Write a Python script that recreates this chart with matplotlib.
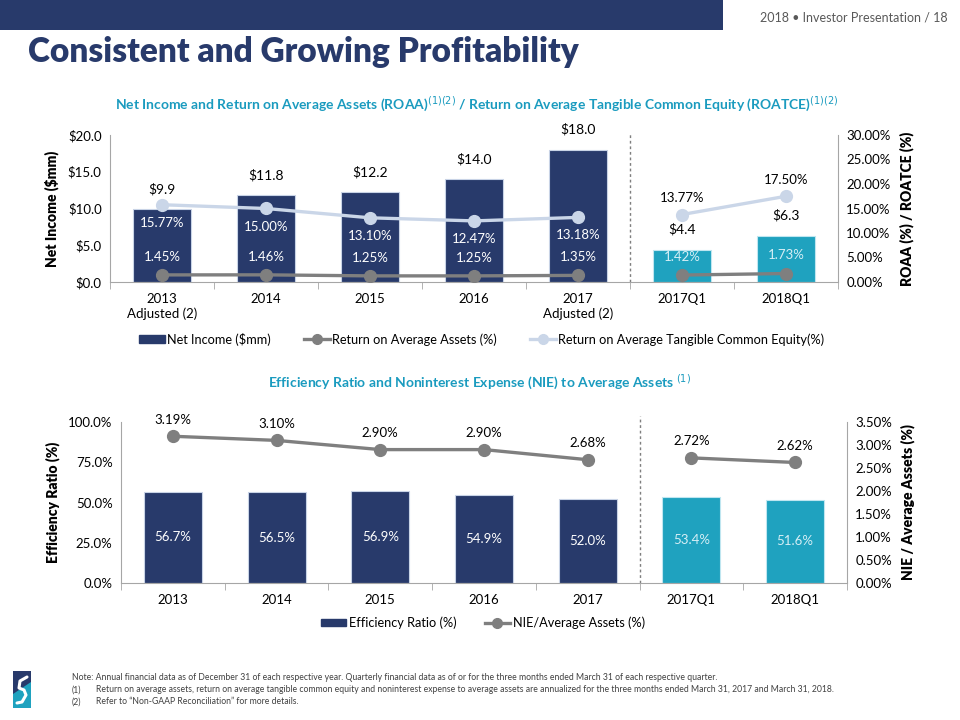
import numpy as np
import matplotlib
matplotlib.use("Agg")
import matplotlib.pyplot as plt
from matplotlib.patches import Rectangle, Polygon
from matplotlib.lines import Line2D
from matplotlib.ticker import FuncFormatter, MultipleLocator, FixedLocator

plt.rcParams['font.family'] = ['Lato', 'DejaVu Sans']

NAVY = '#283a6b'
TEAL = '#1fa2bf'
GRAY = '#7f7f7f'
LIGHT = '#cad6e8'
AXIS = '#a6a6a6'

# %% data
top_cats = ['2013\nAdjusted (2)', '2014', '2015', '2016', '2017\nAdjusted (2)', '2017Q1', '2018Q1']
net_income = [9.9, 11.8, 12.2, 14.0, 18.0, 4.4, 6.3]
roaa = [1.45, 1.46, 1.25, 1.25, 1.35, 1.42, 1.73]
roatce = [15.77, 15.00, 13.10, 12.47, 13.18, 13.77, 17.50]

bot_cats = ['2013', '2014', '2015', '2016', '2017', '2017Q1', '2018Q1']
eff_ratio = [56.7, 56.5, 56.9, 54.9, 52.0, 53.4, 51.6]
nie_assets = [3.19, 3.10, 2.90, 2.90, 2.68, 2.72, 2.62]

n_annual = 5
bar_colors = [NAVY] * n_annual + [TEAL] * 2
bar_edges = ['#c8d3e6'] * n_annual + ['#bfe6f0'] * 2

fig = plt.figure(figsize=(9.6, 7.2), dpi=100)


def fx(px):
    return px / 960


def fy(py):
    return 1 - py / 720


# %% header
fig.add_artist(Rectangle((0, fy(30)), fx(723), 30 / 720, transform=fig.transFigure,
                         color=NAVY, lw=0))
fig.text(fx(948), fy(18), '2018 \u2022 Investor Presentation / 18', ha='right', va='center',
         fontsize=9, color='#595959')
fig.text(fx(28), fy(52), 'Consistent and Growing Profitability', ha='left', va='center',
         fontsize=24, fontweight='heavy', color=NAVY)
fig.text(0.497, fy(104),
         r'Net Income and Return on Average Assets (ROAA)$^{(1)(2)}$ / Return on Average Tangible Common Equity (ROATCE)$^{(1)(2)}$',
         ha='center', va='center', fontsize=10, fontweight='bold', color='#1a9bbf')
fig.text(0.5, fy(382), r'Efficiency Ratio and Noninterest Expense (NIE) to Average Assets $^{(1)}$',
         ha='center', va='center', fontsize=10, fontweight='bold', color='#1a9bbf')


def style_axes(ax, ax2):
    for a in (ax, ax2):
        a.spines['top'].set_visible(False)
        for s in ('left', 'right', 'bottom'):
            a.spines[s].set_color(AXIS)
        a.tick_params(axis='y', length=0, labelsize=9.5, pad=6)
    ax.spines['right'].set_visible(False)
    ax2.spines['left'].set_visible(False)
    ax2.spines['bottom'].set_visible(False)
    ax.set_xlim(-0.5, 6.5)
    ax.xaxis.set_major_locator(FixedLocator(range(7)))
    ax.xaxis.set_minor_locator(FixedLocator(np.arange(-0.5, 7, 1)))
    ax.tick_params(axis='x', which='major', length=0, labelsize=9.5, pad=8)
    ax.tick_params(axis='x', which='minor', length=5, color=AXIS, direction='out')


# %% top chart
x = np.arange(len(top_cats))
ax1 = fig.add_axes([fx(110), fy(282), 728 / 960, 147 / 720])
ax1b = ax1.twinx()
ax1.bar(x, net_income, width=0.56, color=bar_colors, edgecolor=bar_edges, lw=0.8)
ax1.set_ylim(0, 20)
ax1.yaxis.set_major_locator(MultipleLocator(5))
ax1.yaxis.set_major_formatter(FuncFormatter(lambda v, p: f'${v:.1f}'))
ax1.set_xticks(x)
ax1.set_xticklabels(top_cats)
ax1.set_ylabel('Net Income ($mm)', fontsize=10, fontweight='heavy', labelpad=6)

ax1b.set_ylim(0, 30)
ax1b.yaxis.set_major_locator(MultipleLocator(5))
ax1b.yaxis.set_major_formatter(FuncFormatter(lambda v, p: f'{v:.2f}%'))
ax1b.set_ylabel('ROAA (%) / ROATCE (%)', fontsize=10, fontweight='heavy', labelpad=6)
for seg in (slice(0, n_annual), slice(n_annual, None)):
    ax1b.plot(x[seg], roatce[seg], color=LIGHT, lw=2.4, marker='o', ms=8.5, zorder=3)
    ax1b.plot(x[seg], roaa[seg], color=GRAY, lw=2.4, marker='o', ms=8.5, zorder=3)
style_axes(ax1, ax1b)

for i, v in enumerate(net_income):
    ax1.annotate(f'${v:.1f}', (x[i], v), xytext=(0, 10), textcoords='offset points',
                 ha='center', va='bottom', fontsize=10)
for i, v in enumerate(roatce):
    if i < n_annual:
        ax1b.annotate(f'{v:.2f}%', (x[i], v), xytext=(0, -13), textcoords='offset points',
                      ha='center', va='center', fontsize=9.5, color='white')
    else:
        ax1b.annotate(f'{v:.2f}%', (x[i], v), xytext=(0, 12), textcoords='offset points',
                      ha='center', va='center', fontsize=9.5, color='black')
for i, v in enumerate(roaa):
    c = 'white' if i < n_annual else '#d6eef5'
    ax1b.annotate(f'{v:.2f}%', (x[i], v), xytext=(0, 13), textcoords='offset points',
                  ha='center', va='center', fontsize=9.5, color=c)
ax1.plot([4.5, 4.5], [0, 20.4], color=GRAY, lw=1, ls=(0, (2, 2)), clip_on=False)

fig.legend(handles=[Rectangle((0, 0), 1, 1, color=NAVY),
                    Line2D([], [], color=GRAY, lw=2.4, marker='o', ms=7),
                    Line2D([], [], color=LIGHT, lw=2.4, marker='o', ms=7)],
           labels=['Net Income ($mm)', 'Return on Average Assets (%)',
                   'Return on Average Tangible Common Equity(%)'],
           loc='center', bbox_to_anchor=(0.502, fy(339)), ncol=3, frameon=False,
           fontsize=9.2, handlelength=2.0, handleheight=0.5, handletextpad=0.2, columnspacing=2.6)

# %% bottom chart
ax2 = fig.add_axes([fx(121), fy(583), 726 / 960, 161 / 720])
ax2b = ax2.twinx()
ax2.bar(x, eff_ratio, width=0.56, color=bar_colors, edgecolor=bar_edges, lw=0.8)
ax2.set_ylim(0, 100)
ax2.yaxis.set_major_locator(MultipleLocator(25))
ax2.yaxis.set_major_formatter(FuncFormatter(lambda v, p: f'{v:.1f}%'))
ax2.set_xticks(x)
ax2.set_xticklabels(bot_cats)
ax2.set_ylabel('Efficiency Ratio (%)', fontsize=10, fontweight='heavy', labelpad=6)
for i, v in enumerate(eff_ratio):
    ax2.text(x[i], v / 2, f'{v:.1f}%', ha='center', va='center', fontsize=9.5,
             color='white' if i < n_annual else '#d6eef5')

ax2b.set_ylim(0, 3.5)
ax2b.yaxis.set_major_locator(MultipleLocator(0.5))
ax2b.yaxis.set_major_formatter(FuncFormatter(lambda v, p: f'{v:.2f}%'))
ax2b.set_ylabel('NIE / Average Assets (%)', fontsize=10, fontweight='heavy', labelpad=6)
for seg in (slice(0, n_annual), slice(n_annual, None)):
    ax2b.plot(x[seg], nie_assets[seg], color=GRAY, lw=2.4, marker='o', ms=8.5, zorder=3)
for i, v in enumerate(nie_assets):
    ax2b.annotate(f'{v:.2f}%', (x[i], v), xytext=(0, 12), textcoords='offset points',
                  ha='center', va='center', fontsize=9.5)
style_axes(ax2, ax2b)
ax2.plot([4.5, 4.5], [0, 104], color=GRAY, lw=1, ls=(0, (2, 2)), clip_on=False)

fig.legend(handles=[Rectangle((0, 0), 1, 1, color=NAVY),
                    Line2D([], [], color=GRAY, lw=2.4, marker='o', ms=7)],
           labels=['Efficiency Ratio (%)', 'NIE/Average Assets (%)'],
           loc='center', bbox_to_anchor=(0.503, fy(623)), ncol=2, frameon=False,
           fontsize=9.2, handlelength=2.0, handleheight=0.5, handletextpad=0.2, columnspacing=2.2)

# %% footer logo
fig.add_artist(Rectangle((fx(13), fy(698)), 18 / 960, 27 / 720, transform=fig.transFigure,
                         color=NAVY, lw=0))
fig.add_artist(Polygon([(fx(13), fy(694)), (fx(31), fy(682)), (fx(31), fy(708)), (fx(13), fy(708))],
                       closed=True, transform=fig.transFigure, color=TEAL, lw=0))
s_curve = np.array([(27, 677), (20, 681), (19, 688), (24, 690), (26, 695), (22, 702), (17, 703)])
fig.add_artist(Line2D(fx(s_curve[:, 0]), fy(s_curve[:, 1]), transform=fig.transFigure,
                      color='white', lw=2.2, solid_capstyle='round'))

notes = [
    (72, 677, 'Note: Annual financial data as of December 31 of each respective year. Quarterly financial data as of or for the three months ended March 31 of each respective quarter.'),
    (72, 690, '(1)'),
    (96, 690, 'Return on average assets, return on average tangible common equity and noninterest expense to average assets are annualized for the three months ended March 31, 2017 and March 31, 2018.'),
    (72, 702, '(2)'),
    (96, 702, 'Refer to \u201cNon-GAAP Reconciliation\u201d for more details.'),
]
for px, py, t in notes:
    fig.text(fx(px), fy(py), t, ha='left', va='center', fontsize=6.2, color='#404040')

fig.savefig('out.png', dpi=100)
